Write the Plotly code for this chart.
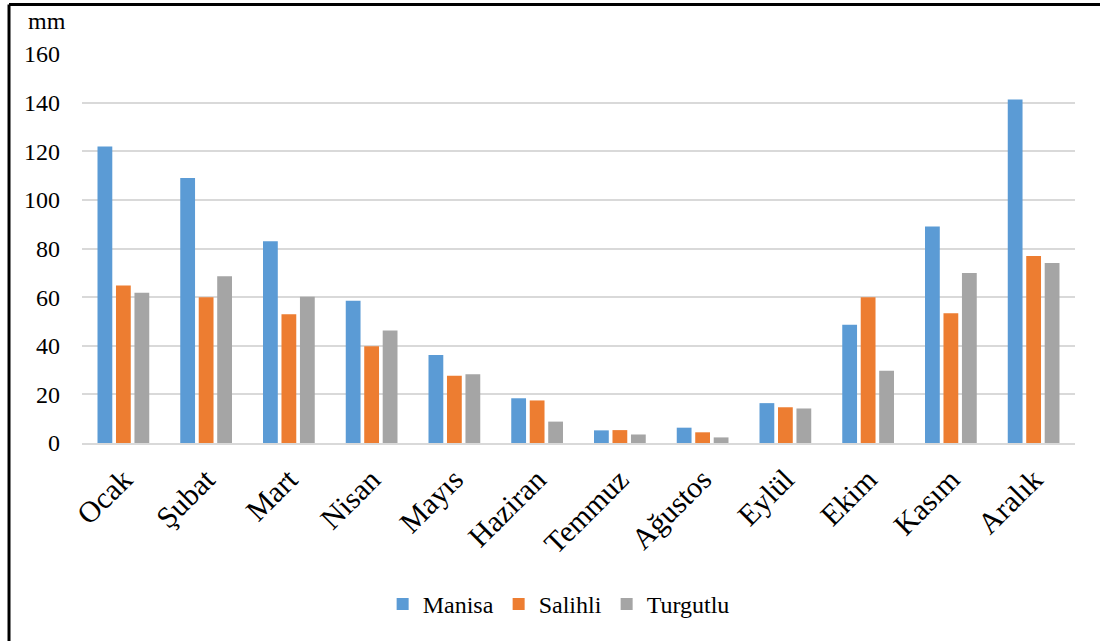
import plotly.graph_objects as go

# Monthly precipitation (mm) for three stations
months = ["Ocak", "Şubat", "Mart", "Nisan", "Mayıs", "Haziran",
          "Temmuz", "Ağustos", "Eylül", "Ekim", "Kasım", "Aralık"]
manisa = [122.0, 109.0, 83.0, 58.5, 36.2, 18.4, 5.2, 6.3, 16.4, 48.6, 89.0, 141.3]
salihli = [64.8, 60.0, 53.0, 39.8, 27.7, 17.5, 5.3, 4.4, 14.7, 60.0, 53.4, 76.9]
turgutlu = [61.8, 68.6, 60.2, 46.3, 28.3, 8.8, 3.5, 2.3, 14.2, 29.7, 69.9, 74.0]

series = [
    ("Manisa", manisa, "#5B9BD5"),
    ("Salihli", salihli, "#ED7D31"),
    ("Turgutlu", turgutlu, "#A5A5A5"),
]

serif = "'Liberation Serif', 'Times New Roman', serif"

fig = go.Figure()
for name, vals, color in series:
    fig.add_trace(go.Bar(
        x=months, y=vals, name=name,
        marker=dict(color=color, line=dict(width=0)),
    ))

fig.update_layout(
    width=1100, height=641,
    margin=dict(l=82, r=25, t=54, b=198, autoexpand=False),
    paper_bgcolor="white", plot_bgcolor="white",
    barmode="group", bargap=0.33, bargroupgap=0.2,
    font=dict(family=serif, color="black", size=24),
    showlegend=True,
    legend=dict(
        orientation="h", x=0.48, xanchor="center", y=-0.415, yanchor="middle",
        font=dict(size=24, family=serif, color="black"), itemwidth=30,
        traceorder="normal",
    ),
    xaxis=dict(
        tickangle=-45, tickfont=dict(size=30, family=serif, color="black"),
        showgrid=False, showline=True, linecolor="#D9D9D9", linewidth=2,
        ticks="", ticklabelstandoff=5, automargin=False,
    ),
    yaxis=dict(
        range=[0, 160], tick0=0, dtick=20,
        showgrid=True, gridcolor="#D9D9D9", gridwidth=2,
        zeroline=False, showline=False, ticks="", automargin=False,
        tickfont=dict(size=24, family=serif, color="black"), ticklabelstandoff=21,
    ),
    annotations=[dict(
        text="mm", xref="paper", yref="paper", x=-0.056, y=1.0,
        xanchor="left", yanchor="bottom", yshift=18, showarrow=False,
        font=dict(size=24, family=serif, color="black"),
    )],
    shapes=[
        # frame lines along the left and top edges
        dict(type="line", xref="paper", yref="paper",
             x0=-0.0735, x1=-0.0735, y0=1.127, y1=-0.6,
             line=dict(color="black", width=3)),
        dict(type="line", xref="paper", yref="paper",
             x0=-0.0735, x1=1.03, y0=1.127, y1=1.127,
             line=dict(color="black", width=3)),
    ],
)

fig.write_html("out.html")
